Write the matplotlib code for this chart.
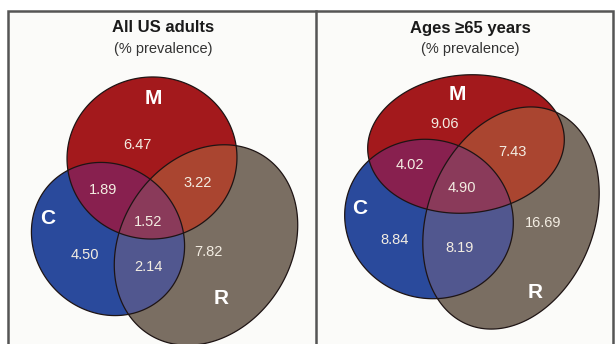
import numpy as np
import matplotlib
matplotlib.use("Agg")
import matplotlib.pyplot as plt
from matplotlib.patches import Polygon, Rectangle

plt.rcParams['font.family'] = ['Liberation Sans', 'DejaVu Sans']

# data
regions = ['M', 'MC', 'MR', 'MCR', 'C', 'CR', 'R']
all_adults = [6.47, 1.89, 3.22, 1.52, 4.50, 2.14, 7.82]
ages_65 = [9.06, 4.02, 7.43, 4.90, 8.84, 8.19, 16.69]
titles = ['All US adults', 'Ages \u226565 years']
subtitle = '(% prevalence)'
set_names = ['M', 'C', 'R']

# colours per region
colors = {'M': '#a3191c', 'C': '#2a4a9c', 'R': '#7a6e62',
          'MC': '#88204f', 'MR': '#aa4530', 'CR': '#51578f', 'MCR': '#8a3a5a'}

# layout (pixel coords, y downwards): ellipses (cx, cy, width, height, angle)
shapes = [
    {'M': (152, 158, 170, 162, -5), 'C': (108, 239, 160, 146, 45), 'R': (206, 245, 212, 170, -57)},
    {'M': (466, 144, 197, 138, -5), 'C': (429, 219, 170, 158, 20), 'R': (511, 218, 230, 166, -68)},
]
value_pos = [
    [(137, 145), (103, 190), (198, 183), (148, 222), (85, 255), (148, 267), (208, 252)],
    [(445, 124), (410, 165), (512, 152), (462, 188), (395, 240), (460, 248), (543, 223)],
]
label_pos = [
    {'M': (153, 98), 'C': (48, 218), 'R': (221, 298)},
    {'M': (457, 95), 'C': (360, 208), 'R': (535, 292)},
]
title_x = [163, 470]


def ellipse_pts(cx, cy, w, h, ang, n=240):
    t = np.linspace(0, 2 * np.pi, n, endpoint=False)
    th = np.radians(ang)
    a, b = w / 2, h / 2
    x = cx + a * np.cos(t) * np.cos(th) - b * np.sin(t) * np.sin(th)
    y = cy + a * np.cos(t) * np.sin(th) + b * np.sin(t) * np.cos(th)
    return np.column_stack([x, y])


def signed_area(p):
    x, y = p[:, 0], p[:, 1]
    return 0.5 * np.sum(x * np.roll(y, -1) - np.roll(x, -1) * y)


def clip(subject, clipper):
    # Sutherland-Hodgman, clipper is convex
    sgn = np.sign(signed_area(clipper))
    out = [tuple(p) for p in subject]
    n = len(clipper)
    for i in range(n):
        a, b = clipper[i], clipper[(i + 1) % n]
        inp, out = out, []
        if not inp:
            break

        def side(p):
            return sgn * ((b[0] - a[0]) * (p[1] - a[1]) - (b[1] - a[1]) * (p[0] - a[0]))

        for j in range(len(inp)):
            p, q = inp[j - 1], inp[j]
            sp, sq = side(p), side(q)
            if sq >= 0:
                if sp < 0:
                    t = sp / (sp - sq)
                    out.append((p[0] + t * (q[0] - p[0]), p[1] + t * (q[1] - p[1])))
                out.append(q)
            elif sp >= 0:
                t = sp / (sp - sq)
                out.append((p[0] + t * (q[0] - p[0]), p[1] + t * (q[1] - p[1])))
    return np.array(out)


fig = plt.figure(figsize=(6.15, 3.44), dpi=100)
ax = fig.add_axes([0, 0, 1, 1])
ax.set_xlim(0, 615)
ax.set_ylim(344, 0)
ax.axis('off')

# frame
ax.add_patch(Rectangle((8, 10.5), 605, 340, facecolor='#fbfbf9', edgecolor='#555555', lw=1.8, zorder=0))
ax.plot([316, 316], [10.5, 344], color='#555555', lw=1.8, zorder=0)

for k, vals in enumerate([all_adults, ages_65]):
    sh = shapes[k]
    poly = {s: ellipse_pts(*sh[s]) for s in set_names}
    for s in ['R', 'C', 'M']:
        ax.add_patch(Polygon(poly[s], closed=True, facecolor=colors[s], edgecolor='none', zorder=1))
    mc = clip(poly['M'], poly['C'])
    mr = clip(poly['M'], poly['R'])
    cr = clip(poly['C'], poly['R'])
    mcr = clip(mc, poly['R'])
    for key, p in [('MC', mc), ('MR', mr), ('CR', cr), ('MCR', mcr)]:
        if len(p) > 2:
            ax.add_patch(Polygon(p, closed=True, facecolor=colors[key], edgecolor='none', zorder=2))
    for s in set_names:
        ax.add_patch(Polygon(poly[s], closed=True, facecolor='none', edgecolor='#1e1414', lw=0.9, zorder=3))

    for v, (x, y) in zip(vals, value_pos[k]):
        ax.text(x, y, f"{v:.2f}", color='#f3ede2', fontsize=10.5, ha='center', va='center', zorder=4)
    for s in set_names:
        x, y = label_pos[k][s]
        ax.text(x, y, s, color='white', fontsize=15, fontweight='bold', ha='center', va='center', zorder=4)

    ax.text(title_x[k], 28, titles[k], fontsize=12, fontweight='bold', color='#1a1a1a', ha='center', va='center')
    ax.text(title_x[k], 49, subtitle, fontsize=10.5, color='#333333', ha='center', va='center')

fig.savefig('out.png', dpi=100)
